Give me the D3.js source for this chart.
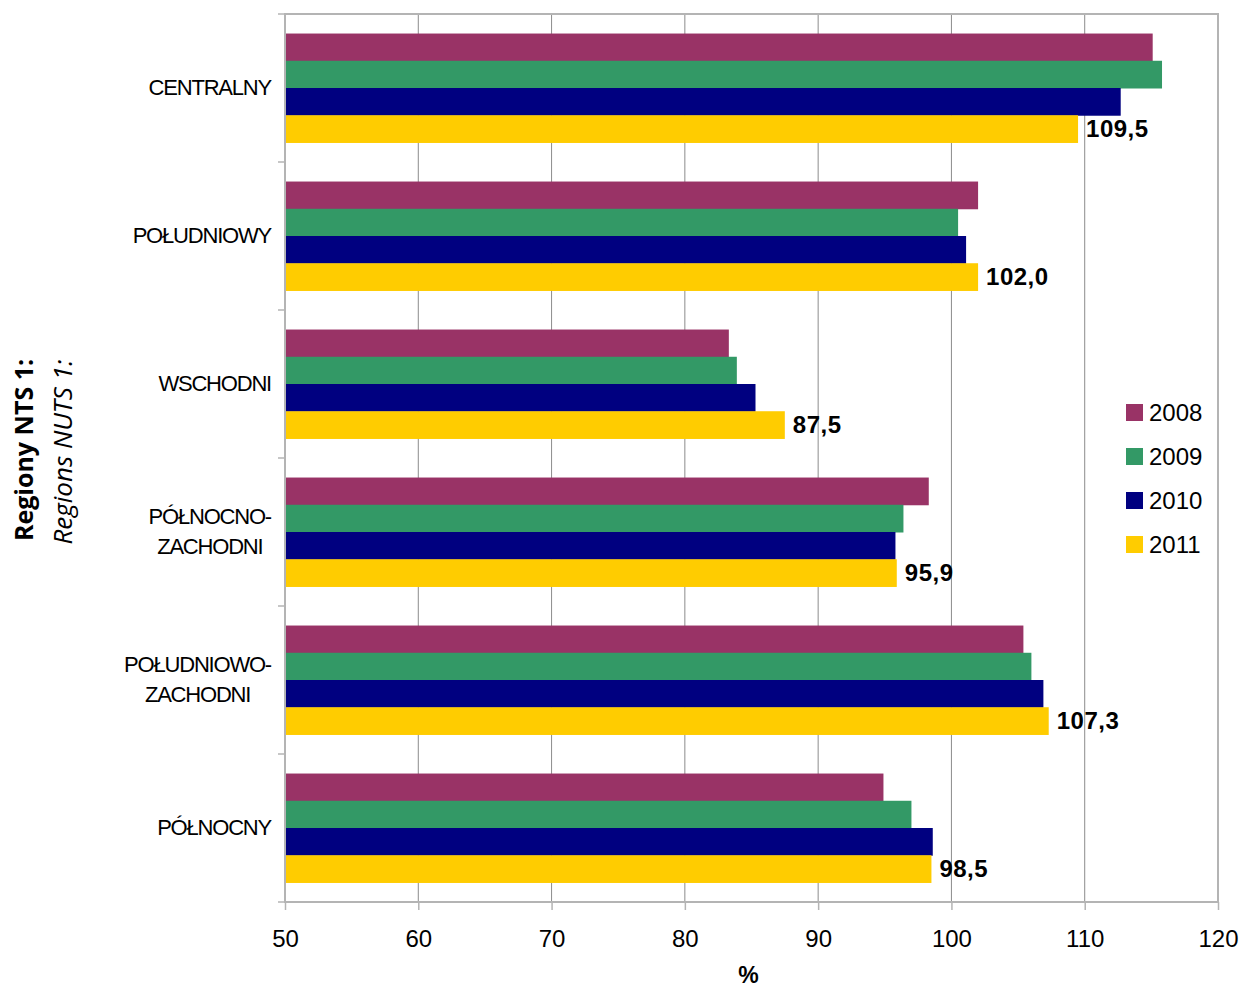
<!DOCTYPE html>
<html>
<head>
<meta charset="utf-8">
<script src="https://cdn.jsdelivr.net/npm/d3@7"></script>
<style>
  html, body { margin: 0; padding: 0; background: #fff; }
  svg { display: block; }
</style>
</head>
<body>
<div id="chart"></div>
<script>
// ── Data ─────────────────────────────────────────────────────────────────────
const regions = [
  'CENTRALNY',
  'POŁUDNIOWY',
  'WSCHODNI',
  'PÓŁNOCNO-\nZACHODNI',
  'POŁUDNIOWO-\nZACHODNI',
  'PÓŁNOCNY',
];
const years = ['2008', '2009', '2010', '2011'];
const values2008 = [115.1, 102.0, 83.3, 98.3, 105.4, 94.9];
const values2009 = [115.8, 100.5, 83.9, 96.4, 106.0, 97.0];
const values2010 = [112.7, 101.1, 85.3, 95.8, 106.9, 98.6];
const values2011 = [109.5, 102.0, 87.5, 95.9, 107.3, 98.5];
const xTicks = [50, 60, 70, 80, 90, 100, 110, 120];
const colors = ['#993366', '#339966', '#000080', '#FFCC00'];

const series = [values2008, values2009, values2010, values2011];

// ── Layout ───────────────────────────────────────────────────────────────────
const W = 1242, H = 990;
const margin = { top: 14, right: 24, bottom: 88, left: 285 };
const innerW = 933;
const innerH = 888;
const FONT = "'Liberation Sans', Arial, sans-serif";

const svg = d3.select('#chart').append('svg')
  .attr('width', W).attr('height', H)
  .attr('viewBox', `0 0 ${W} ${H}`);

const g = svg.append('g').attr('transform', `translate(${margin.left},${margin.top})`);

const x = d3.scaleLinear().domain([50, 120]).range([0, innerW]);
const y0 = d3.scaleBand().domain(regions).range([0, innerH])
  .paddingInner(0.264).paddingOuter(0.132);
const y1 = d3.scaleBand().domain(years).range([0, y0.bandwidth()]);

// Gridlines
g.append('g')
  .selectAll('line')
  .data(xTicks.slice(1, -1))
  .join('line')
  .attr('x1', (d) => x(d)).attr('x2', (d) => x(d))
  .attr('y1', 0).attr('y2', innerH)
  .attr('stroke', '#8c8c8c').attr('stroke-width', 1);

// Bars
const rows = regions.map((r, i) => ({ region: r, vals: series.map((s) => s[i]) }));
const groups = g.append('g')
  .selectAll('g')
  .data(rows)
  .join('g')
  .attr('transform', (d) => `translate(0,${y0(d.region)})`);

groups.selectAll('rect')
  .data((d) => d.vals.map((v, k) => ({ year: years[k], value: v, k })))
  .join('rect')
  .attr('x', 0)
  .attr('y', (d) => y1(d.year))
  .attr('height', y1.bandwidth() + 0.5)
  .attr('width', (d) => x(d.value) - x(50))
  .attr('fill', (d) => colors[d.k]);

// Value labels on the 2011 bars
g.append('g')
  .selectAll('text')
  .data(rows)
  .join('text')
  .attr('x', (d) => x(d.vals[3]) + 8)
  .attr('y', (d) => y0(d.region) + y1('2011') + y1.bandwidth() / 2)
  .attr('dy', '0.36em')
  .attr('font-family', FONT)
  .attr('font-weight', 'bold')
  .attr('font-size', 24)
  .attr('letter-spacing', 0.5)
  .attr('fill', '#000')
  .text((d) => d.vals[3].toFixed(1).replace('.', ','));

// Plot frame
g.append('rect')
  .attr('x', 0).attr('y', 0)
  .attr('width', innerW).attr('height', innerH)
  .attr('fill', 'none')
  .attr('stroke', '#b4b4b4').attr('stroke-width', 2);

// Bottom axis
const xAxis = g.append('g')
  .attr('transform', `translate(0,${innerH})`)
  .call(d3.axisBottom(x).tickValues(xTicks).tickSize(8).tickPadding(20));
xAxis.select('.domain').remove();
xAxis.selectAll('line').attr('stroke', '#b4b4b4').attr('stroke-width', 1.5);
xAxis.selectAll('text')
  .attr('font-family', FONT)
  .attr('font-size', 24)
  .attr('fill', '#000');

// Left axis: ticks at category boundaries
const half = (y0.step() - y0.bandwidth()) / 2;
const bounds = regions.map((r) => y0(r) - half)
  .concat([y0(regions[regions.length - 1]) + y0.bandwidth() + half]);
g.append('g')
  .selectAll('line')
  .data(bounds)
  .join('line')
  .attr('x1', -7).attr('x2', 0)
  .attr('y1', (d) => d).attr('y2', (d) => d)
  .attr('stroke', '#b4b4b4').attr('stroke-width', 1.5);

// Category labels (multi-line labels centred as a block, block right-aligned)
const catLabels = g.append('g')
  .selectAll('text')
  .data(regions)
  .join('text')
  .attr('font-family', FONT)
  .attr('font-size', 22)
  .attr('letter-spacing', -1.2)
  .attr('fill', '#000');

catLabels.each(function (r) {
  const lines = r.split('\n');
  const t = d3.select(this);
  const cy = y0(r) + y0.bandwidth() / 2;
  const lh = 30;
  lines.forEach((ln, i) => {
    t.append('tspan')
      .attr('y', cy + (i - (lines.length - 1) / 2) * lh - 1)
      .attr('dy', '0.36em')
      .text(ln);
  });
  const maxW = d3.max(t.selectAll('tspan').nodes(), (n) => n.getComputedTextLength());
  t.attr('text-anchor', 'middle');
  t.selectAll('tspan').attr('x', -14 - maxW / 2);
});

// Legend
const legend = svg.append('g').attr('transform', 'translate(1126,404)');
const li = legend.selectAll('g')
  .data(years)
  .join('g')
  .attr('transform', (d, i) => `translate(0,${i * 44})`);
li.append('rect')
  .attr('width', 17).attr('height', 17)
  .attr('fill', (d, i) => colors[i]);
li.append('text')
  .attr('x', 23).attr('y', 8.5).attr('dy', '0.36em')
  .attr('font-family', FONT)
  .attr('font-size', 24)
  .attr('fill', '#000')
  .text((d) => d);

// Axis titles
svg.append('text')
  .attr('transform', 'translate(33,450) rotate(-90)')
  .attr('text-anchor', 'middle')
  .attr('font-family', "'Open Sans', sans-serif")
  .attr('font-weight', 'bold')
  .attr('font-size', 25)
  .attr('fill', '#000')
  .text('Regiony NTS  1:');

svg.append('text')
  .attr('transform', 'translate(72,452) rotate(-90)')
  .attr('text-anchor', 'middle')
  .attr('font-family', "'Open Sans', sans-serif")
  .attr('font-style', 'italic')
  .attr('font-size', 26)
  .attr('fill', '#000')
  .text('Regions NUTS 1:');

svg.append('text')
  .attr('x', margin.left + innerW / 2 - 3)
  .attr('y', 983)
  .attr('text-anchor', 'middle')
  .attr('font-family', FONT)
  .attr('font-weight', 'bold')
  .attr('font-size', 23)
  .attr('fill', '#000')
  .text('%');
</script>
</body>
</html>
